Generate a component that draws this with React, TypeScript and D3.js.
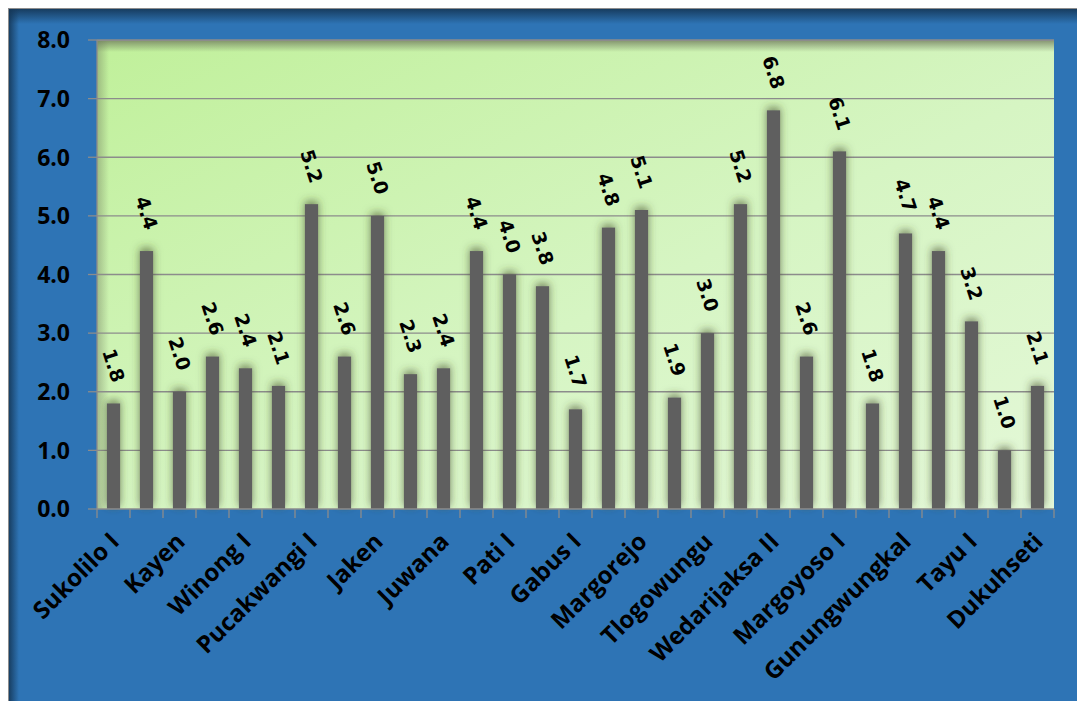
import React from "react";
import * as d3 from "d3";

// Puskesmas (health centres) in order along the x axis
const categories: string[] = [
  "Sukolilo I", "Sukolilo II", "Kayen", "Tambakromo", "Winong I", "Winong II",
  "Pucakwangi I", "Pucakwangi II", "Jaken", "Batangan", "Juwana", "Jakenan",
  "Pati I", "Pati II", "Gabus I", "Gabus II", "Margorejo", "Gembong",
  "Tlogowungu", "Wedarijaksa I", "Wedarijaksa II", "Trangkil", "Margoyoso I",
  "Margoyoso II", "Gunungwungkal", "Cluwak", "Tayu I", "Tayu II", "Dukuhseti",
];

const values: number[] = [
  1.8, 4.4, 2.0, 2.6, 2.4, 2.1, 5.2, 2.6, 5.0, 2.3, 2.4, 4.4, 4.0, 3.8, 1.7,
  4.8, 5.1, 1.9, 3.0, 5.2, 6.8, 2.6, 6.1, 1.8, 4.7, 4.4, 3.2, 1.0, 2.1,
];

const yTicks: number[] = [0, 1, 2, 3, 4, 5, 6, 7, 8];

const W = 1077;
const H = 693;
const plot = { left: 89, top: 32, right: 1046, bottom: 501 };

export default function App() {
  const x = d3
    .scaleBand<string>()
    .domain(categories)
    .range([plot.left, plot.right])
    .paddingInner(0)
    .paddingOuter(0);
  const y = d3.scaleLinear().domain([0, 8]).range([plot.bottom, plot.top]);
  const bw = x.bandwidth();
  const barW = bw * 0.4;
  const fmt = d3.format(".1f");
  const pw = plot.right - plot.left;
  const ph = plot.bottom - plot.top;

  return (
    <svg width={W} height={H} style={{ display: "block" }}>
      <defs>
        <linearGradient id="plotFill" x1="0" y1="0" x2="1" y2="1">
          <stop offset="0%" stopColor="#c0f09a" />
          <stop offset="55%" stopColor="#d6f5c3" />
          <stop offset="100%" stopColor="#e4f8d8" />
        </linearGradient>
        <linearGradient id="plotTopShade" x1="0" y1="0" x2="0" y2="1">
          <stop offset="0%" stopColor="#6f7a5c" stopOpacity={0.8} />
          <stop offset="100%" stopColor="#6f7a5c" stopOpacity={0} />
        </linearGradient>
        <linearGradient id="plotLeftShade" x1="0" y1="0" x2="1" y2="0">
          <stop offset="0%" stopColor="#6f7a5c" stopOpacity={0.45} />
          <stop offset="100%" stopColor="#6f7a5c" stopOpacity={0} />
        </linearGradient>
        <linearGradient id="frameTopShade" x1="0" y1="0" x2="0" y2="1">
          <stop offset="0%" stopColor="#143656" stopOpacity={0.95} />
          <stop offset="100%" stopColor="#143656" stopOpacity={0} />
        </linearGradient>
        <linearGradient id="frameLeftShade" x1="0" y1="0" x2="1" y2="0">
          <stop offset="0%" stopColor="#143656" stopOpacity={0.95} />
          <stop offset="100%" stopColor="#143656" stopOpacity={0} />
        </linearGradient>
        <filter id="barGlow" x="-150%" y="-30%" width="400%" height="160%">
          <feDropShadow dx="0" dy="-3" stdDeviation="4" floodColor="#3c4628" floodOpacity="0.65" />
        </filter>
      </defs>

      {/* chart background */}
      <rect x={0} y={0} width={W} height={H} fill="#2e74b5" />
      <rect x={0} y={0} width={W} height={16} fill="url(#frameTopShade)" />
      <rect x={0} y={0} width={11} height={H} fill="url(#frameLeftShade)" />
      <line x1={0} y1={0.5} x2={W} y2={0.5} stroke="#8d8d8d" strokeWidth={1} />
      <line x1={0.5} y1={0} x2={0.5} y2={H} stroke="#8d8d8d" strokeWidth={1} />

      {/* plot area */}
      <rect x={plot.left} y={plot.top} width={pw} height={ph} fill="url(#plotFill)" />
      <rect x={plot.left} y={plot.top} width={pw} height={12} fill="url(#plotTopShade)" />
      <rect x={plot.left} y={plot.top} width={12} height={ph} fill="url(#plotLeftShade)" />
      <line x1={plot.left} y1={plot.top + 0.5} x2={plot.right} y2={plot.top + 0.5} stroke="#8a8a8a" />

      {/* gridlines and y ticks */}
      {yTicks.map((t) => (
        <g key={t}>
          {t > 0 && (
            <line x1={plot.left} x2={plot.right} y1={y(t)} y2={y(t)} stroke="#8c8c8c" strokeWidth={1.3} />
          )}
          <line x1={plot.left - 9} x2={plot.left} y1={y(t)} y2={y(t)} stroke="#8c8c8c" strokeWidth={1.3} />
          <text
            x={plot.left - 27}
            y={y(t)}
            dy="0.36em"
            textAnchor="end"
            fontFamily="'Open Sans', sans-serif"
            fontWeight={700}
            fontSize={23}
            fill="#000"
          >
            {fmt(t)}
          </text>
        </g>
      ))}

      {/* bars */}
      {categories.map((c, i) => (
        <rect
          key={c}
          x={(x(c) as number) + (bw - barW) / 2}
          y={y(values[i])}
          width={barW}
          height={y(0) - y(values[i])}
          fill="#5f5f5f"
          filter="url(#barGlow)"
        />
      ))}

      {/* axes lines */}
      <line x1={plot.left} x2={plot.left} y1={plot.top} y2={plot.bottom} stroke="#8c8c8c" strokeWidth={1.3} />
      <line x1={plot.left} x2={plot.right} y1={plot.bottom} y2={plot.bottom} stroke="#8c8c8c" strokeWidth={1.5} />
      {d3.range(categories.length + 1).map((k) => {
        const xx = plot.left + k * bw;
        return <line key={k} x1={xx} x2={xx} y1={plot.bottom} y2={plot.bottom + 9} stroke="#8c8c8c" strokeWidth={1.3} />;
      })}

      {/* value labels */}
      {categories.map((c, i) => {
        const cx = (x(c) as number) + bw / 2;
        const cy = y(values[i]) - 38;
        return (
          <text
            key={c}
            transform={`translate(${cx},${cy}) rotate(72)`}
            textAnchor="middle"
            dy="0.35em"
            fontFamily="'DejaVu Sans', sans-serif"
            fontWeight={700}
            fontSize={19}
            fill="#000"
          >
            {fmt(values[i])}
          </text>
        );
      })}

      {/* category labels, every other one */}
      {categories.map((c, i) => {
        if (i % 2 !== 0) return null;
        const cx = (x(c) as number) + bw / 2;
        return (
          <text
            key={c}
            transform={`translate(${cx + 7},${plot.bottom + 34}) rotate(-45)`}
            textAnchor="end"
            fontFamily="'Open Sans', sans-serif"
            fontWeight={700}
            fontSize={24}
            fill="#000"
          >
            {c}
          </text>
        );
      })}
    </svg>
  );
}
